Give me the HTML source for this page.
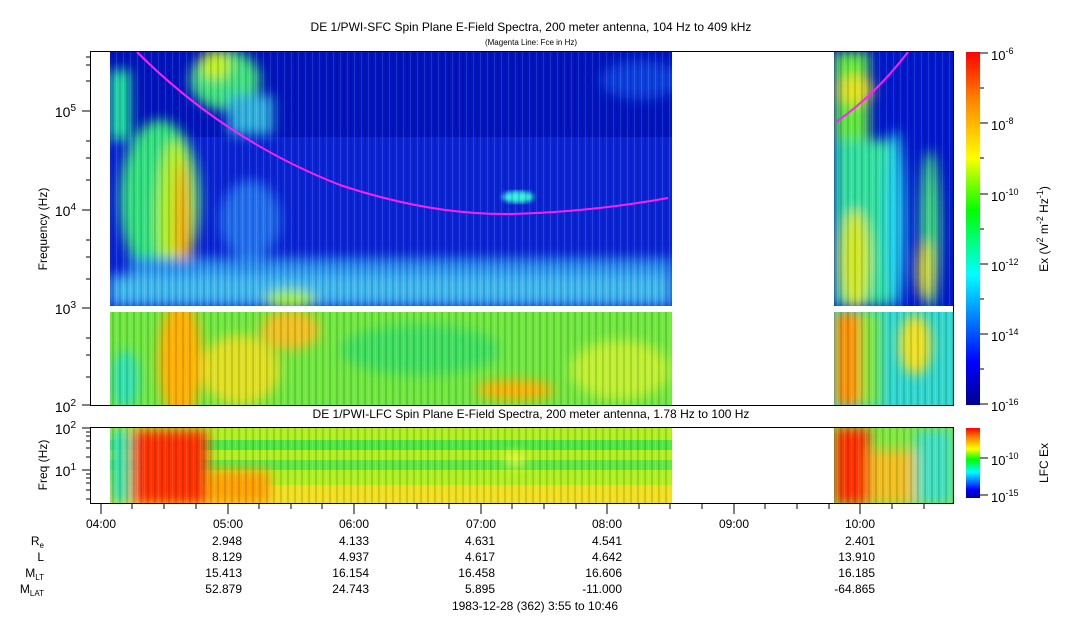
<!DOCTYPE html>
<html><head><style>
body{margin:0;background:#fff;width:1083px;height:620px;overflow:hidden}
svg text{font-family:"Liberation Sans",sans-serif;fill:#000}
</style></head><body>
<svg width="1083" height="620" viewBox="0 0 1083 620" xmlns="http://www.w3.org/2000/svg">
<defs>
<linearGradient id="jet" x1="0" y1="1" x2="0" y2="0">
<stop offset="0" stop-color="#00008f"/><stop offset="0.12" stop-color="#0000ff"/>
<stop offset="0.37" stop-color="#00ffff"/><stop offset="0.55" stop-color="#00ff00"/>
<stop offset="0.63" stop-color="#80ff00"/><stop offset="0.70" stop-color="#ffff00"/>
<stop offset="0.87" stop-color="#ff8000"/><stop offset="1" stop-color="#ff0000"/>
</linearGradient>
<pattern id="stripes" width="7" height="4" patternUnits="userSpaceOnUse">
<rect x="0" y="0" width="2" height="4" fill="#000" opacity="0.12"/>
<rect x="4" y="0" width="1" height="4" fill="#fff" opacity="0.12"/>
</pattern>
<filter id="b6"><feGaussianBlur stdDeviation="6"/></filter>
<filter id="b3"><feGaussianBlur stdDeviation="2.5"/></filter>
<clipPath id="cA"><rect x="110" y="52" width="562" height="254"/></clipPath>
<clipPath id="cB"><rect x="110" y="312" width="562" height="94"/></clipPath>
<clipPath id="cC"><rect x="834" y="52" width="119" height="254"/></clipPath>
<clipPath id="cD"><rect x="834" y="312" width="119" height="94"/></clipPath>
<clipPath id="cE"><rect x="110" y="428" width="562" height="76"/></clipPath>
<clipPath id="cF"><rect x="834" y="428" width="119" height="76"/></clipPath>
</defs>

<text x="531" y="31" font-size="12" text-anchor="middle">DE 1/PWI-SFC  Spin Plane E-Field Spectra, 200 meter antenna, 104 Hz to 409 kHz</text>
<text x="531" y="45" font-size="8" text-anchor="middle">(Magenta Line: Fce in Hz)</text>

<g clip-path="url(#cA)">
<rect x="110" y="52" width="562" height="254" fill="#0a24d8"/>
<rect x="110" y="52" width="562" height="85" fill="#0014c0"/>
<g filter="url(#b6)">
<rect x="110" y="70" width="20" height="70" fill="#20e8a0"/>
<ellipse cx="225" cy="80" rx="35" ry="30" fill="#40e080"/>
<ellipse cx="215" cy="65" rx="15" ry="15" fill="#c0f020"/>
<rect x="228" y="95" width="45" height="40" fill="#30b0e0"/>
<ellipse cx="160" cy="200" rx="40" ry="80" fill="#30e080"/>
<ellipse cx="175" cy="220" rx="18" ry="80" fill="#b0f020"/>
<ellipse cx="182" cy="230" rx="6" ry="70" fill="#ff9000"/>
<ellipse cx="250" cy="220" rx="30" ry="40" fill="#2070f0"/>
<rect x="130" y="258" width="542" height="48" fill="#2a90f0"/>
<rect x="110" y="275" width="562" height="31" fill="#40b8f0"/>
<ellipse cx="290" cy="300" rx="25" ry="10" fill="#a0f040"/>
<ellipse cx="640" cy="80" rx="40" ry="20" fill="#1040e0"/>
</g>
<g filter="url(#b3)">
<ellipse cx="518" cy="197" rx="16" ry="6" fill="#30f0e0"/>
</g>
<rect x="110" y="52" width="562" height="254" fill="url(#stripes)"/>
</g>
<g clip-path="url(#cB)">
<rect x="110" y="312" width="562" height="94" fill="#70e840"/>
<g filter="url(#b6)">
<ellipse cx="180" cy="360" rx="22" ry="60" fill="#ffb000"/>
<ellipse cx="240" cy="370" rx="40" ry="35" fill="#e0e020"/>
<ellipse cx="290" cy="330" rx="30" ry="20" fill="#f0c020"/>
<ellipse cx="515" cy="390" rx="40" ry="10" fill="#ffb000"/>
<ellipse cx="125" cy="380" rx="14" ry="30" fill="#30e0b0"/>
<ellipse cx="420" cy="350" rx="80" ry="25" fill="#40e060"/>
<ellipse cx="620" cy="370" rx="50" ry="30" fill="#c0f030"/>
</g>
<rect x="110" y="312" width="562" height="94" fill="url(#stripes)"/>
</g>
<g clip-path="url(#cC)">
<rect x="834" y="52" width="119" height="254" fill="#0018d0"/>
<g filter="url(#b6)">
<rect x="834" y="52" width="35" height="90" fill="#60e840"/>
<ellipse cx="855" cy="90" rx="18" ry="15" fill="#e0e020"/>
<rect x="834" y="140" width="55" height="166" fill="#30e0a0"/>
<ellipse cx="855" cy="260" rx="15" ry="50" fill="#d0e820"/>
<ellipse cx="895" cy="220" rx="10" ry="90" fill="#20d0f0"/>
<ellipse cx="930" cy="230" rx="10" ry="80" fill="#40e080"/>
<ellipse cx="925" cy="270" rx="8" ry="30" fill="#e0e020"/>
</g>
<rect x="834" y="52" width="119" height="254" fill="url(#stripes)"/>
</g>
<g clip-path="url(#cD)">
<rect x="834" y="312" width="119" height="94" fill="#30d8d0"/>
<g filter="url(#b6)">
<rect x="834" y="312" width="30" height="94" fill="#ff9000"/>
<ellipse cx="915" cy="345" rx="16" ry="30" fill="#f0e020"/>
<rect x="860" y="312" width="20" height="94" fill="#80e840"/>
</g>
<rect x="834" y="312" width="119" height="94" fill="url(#stripes)"/>
</g>
<path d="M137,52 Q225,140 340,185 Q430,215 510,214 Q590,212 668,198" fill="none" stroke="#ff20ff" stroke-width="2"/>
<path d="M836,122 Q875,95 908,52" fill="none" stroke="#ff20ff" stroke-width="2"/>
<rect x="90.5" y="51.5" width="863" height="354" fill="none" stroke="#000"/>
<g stroke="#000">
<line x1="82" y1="111" x2="90" y2="111"/><line x1="82" y1="210" x2="90" y2="210"/><line x1="82" y1="308" x2="90" y2="308"/><line x1="82" y1="405" x2="90" y2="405"/>
<line x1="86" y1="57" x2="90" y2="57"/><line x1="86" y1="65" x2="90" y2="65"/><line x1="86" y1="81" x2="90" y2="81"/><line x1="86" y1="141" x2="90" y2="141"/><line x1="86" y1="158" x2="90" y2="158"/><line x1="86" y1="180" x2="90" y2="180"/>
<line x1="86" y1="240" x2="90" y2="240"/><line x1="86" y1="257" x2="90" y2="257"/><line x1="86" y1="279" x2="90" y2="279"/><line x1="86" y1="338" x2="90" y2="338"/><line x1="86" y1="355" x2="90" y2="355"/><line x1="86" y1="377" x2="90" y2="377"/>
</g>
<g font-size="14" text-anchor="end">
<text x="76" y="117">10<tspan font-size="10" dy="-6">5</tspan></text>
<text x="76" y="216">10<tspan font-size="10" dy="-6">4</tspan></text>
<text x="76" y="314">10<tspan font-size="10" dy="-6">3</tspan></text>
<text x="76" y="412">10<tspan font-size="10" dy="-6">2</tspan></text>
</g>
<text transform="translate(47,229) rotate(-90)" font-size="12" text-anchor="middle">Frequency (Hz)</text>

<text x="531" y="418" font-size="12" text-anchor="middle">DE 1/PWI-LFC  Spin Plane E-Field Spectra, 200 meter antenna, 1.78 Hz to 100 Hz</text>
<g clip-path="url(#cE)">
<rect x="110" y="428" width="562" height="76" fill="#b0f020"/>
<rect x="110" y="440" width="562" height="10" fill="#50e840"/>
<rect x="110" y="460" width="562" height="10" fill="#60e840"/>
<rect x="110" y="485" width="562" height="19" fill="#f0e020"/>
<g filter="url(#b6)">
<rect x="110" y="428" width="20" height="76" fill="#30e0b0"/>
<rect x="132" y="430" width="75" height="74" fill="#ff3000"/>
<rect x="210" y="470" width="60" height="34" fill="#ffa000"/>
<ellipse cx="515" cy="460" rx="10" ry="6" fill="#ffff40"/>
</g>
<rect x="110" y="428" width="562" height="76" fill="url(#stripes)"/>
</g>
<g clip-path="url(#cF)">
<rect x="834" y="428" width="119" height="76" fill="#80e840"/>
<g filter="url(#b6)">
<rect x="834" y="428" width="35" height="76" fill="#ff3000"/>
<rect x="870" y="450" width="45" height="54" fill="#f0c020"/>
<rect x="915" y="430" width="38" height="74" fill="#40e0c0"/>
</g>
<rect x="834" y="428" width="119" height="76" fill="url(#stripes)"/>
</g>
<rect x="90.5" y="427.5" width="863" height="76" fill="none" stroke="#000"/>
<g stroke="#000">
<line x1="82" y1="428" x2="90" y2="428"/><line x1="82" y1="470" x2="90" y2="470"/>
<line x1="86" y1="432" x2="90" y2="432"/><line x1="86" y1="436" x2="90" y2="436"/><line x1="86" y1="441" x2="90" y2="441"/><line x1="86" y1="448" x2="90" y2="448"/><line x1="86" y1="457" x2="90" y2="457"/>
<line x1="86" y1="474" x2="90" y2="474"/><line x1="86" y1="478" x2="90" y2="478"/><line x1="86" y1="483" x2="90" y2="483"/><line x1="86" y1="490" x2="90" y2="490"/><line x1="86" y1="499" x2="90" y2="499"/>
</g>
<g font-size="14" text-anchor="end">
<text x="76" y="434">10<tspan font-size="10" dy="-6">2</tspan></text>
<text x="76" y="476">10<tspan font-size="10" dy="-6">1</tspan></text>
</g>
<text transform="translate(47,465) rotate(-90)" font-size="12" text-anchor="middle">Freq (Hz)</text>
<g stroke="#000">
<line x1="101" y1="504" x2="101" y2="514"/><line x1="228" y1="504" x2="228" y2="514"/><line x1="354" y1="504" x2="354" y2="514"/><line x1="481" y1="504" x2="481" y2="514"/><line x1="607" y1="504" x2="607" y2="514"/><line x1="734" y1="504" x2="734" y2="514"/><line x1="860" y1="504" x2="860" y2="514"/>
<line x1="132" y1="504" x2="132" y2="509"/><line x1="164" y1="504" x2="164" y2="509"/><line x1="196" y1="504" x2="196" y2="509"/>
<line x1="259" y1="504" x2="259" y2="509"/><line x1="291" y1="504" x2="291" y2="509"/><line x1="322" y1="504" x2="322" y2="509"/>
<line x1="386" y1="504" x2="386" y2="509"/><line x1="417" y1="504" x2="417" y2="509"/><line x1="449" y1="504" x2="449" y2="509"/>
<line x1="512" y1="504" x2="512" y2="509"/><line x1="544" y1="504" x2="544" y2="509"/><line x1="576" y1="504" x2="576" y2="509"/>
<line x1="639" y1="504" x2="639" y2="509"/><line x1="670" y1="504" x2="670" y2="509"/><line x1="702" y1="504" x2="702" y2="509"/>
<line x1="765" y1="504" x2="765" y2="509"/><line x1="797" y1="504" x2="797" y2="509"/><line x1="829" y1="504" x2="829" y2="509"/>
<line x1="892" y1="504" x2="892" y2="509"/><line x1="924" y1="504" x2="924" y2="509"/>
</g>
<g font-size="12" text-anchor="middle">
<text x="101" y="528">04:00</text><text x="228" y="528">05:00</text><text x="354" y="528">06:00</text><text x="481" y="528">07:00</text><text x="607" y="528">08:00</text><text x="734" y="528">09:00</text><text x="860" y="528">10:00</text>
</g>
<g font-size="12" text-anchor="end">
<text x="44" y="545">R<tspan font-size="8" dy="3">e</tspan></text>
<text x="44" y="561">L</text>
<text x="44" y="577">M<tspan font-size="8" dy="3">LT</tspan></text>
<text x="44" y="593">M<tspan font-size="8" dy="3">LAT</tspan></text>
<text x="242" y="545">2.948</text><text x="242" y="561">8.129</text><text x="242" y="577">15.413</text><text x="242" y="593">52.879</text>
<text x="369" y="545">4.133</text><text x="369" y="561">4.937</text><text x="369" y="577">16.154</text><text x="369" y="593">24.743</text>
<text x="495" y="545">4.631</text><text x="495" y="561">4.617</text><text x="495" y="577">16.458</text><text x="495" y="593">5.895</text>
<text x="622" y="545">4.541</text><text x="622" y="561">4.642</text><text x="622" y="577">16.606</text><text x="622" y="593">-11.000</text>
<text x="875" y="545">2.401</text><text x="875" y="561">13.910</text><text x="875" y="577">16.185</text><text x="875" y="593">-64.865</text>
</g>
<text x="535" y="610" font-size="12" text-anchor="middle">1983-12-28 (362) 3:55 to 10:46</text>
<rect x="966" y="52" width="14" height="353" fill="url(#jet)"/>
<rect x="966" y="428" width="14" height="70" fill="url(#jet)"/>
<g stroke="#000">
<line x1="980" y1="53" x2="988" y2="53"/><line x1="980" y1="123" x2="988" y2="123"/><line x1="980" y1="194" x2="988" y2="194"/><line x1="980" y1="264" x2="988" y2="264"/><line x1="980" y1="334" x2="988" y2="334"/><line x1="980" y1="404" x2="988" y2="404"/>
<line x1="980" y1="88" x2="984" y2="88"/><line x1="980" y1="158" x2="984" y2="158"/><line x1="980" y1="229" x2="984" y2="229"/><line x1="980" y1="299" x2="984" y2="299"/><line x1="980" y1="369" x2="984" y2="369"/>
<line x1="980" y1="458" x2="988" y2="458"/><line x1="980" y1="495" x2="988" y2="495"/>
</g>
<g font-size="13">
<text x="991" y="60">10<tspan font-size="9" dy="-6">-6</tspan></text>
<text x="991" y="130">10<tspan font-size="9" dy="-6">-8</tspan></text>
<text x="991" y="201">10<tspan font-size="9" dy="-6">-10</tspan></text>
<text x="991" y="271">10<tspan font-size="9" dy="-6">-12</tspan></text>
<text x="991" y="341">10<tspan font-size="9" dy="-6">-14</tspan></text>
<text x="991" y="411">10<tspan font-size="9" dy="-6">-16</tspan></text>
<text x="991" y="465">10<tspan font-size="9" dy="-6">-10</tspan></text>
<text x="991" y="502">10<tspan font-size="9" dy="-6">-15</tspan></text>
</g>
<text transform="translate(1048,229) rotate(-90)" font-size="12" text-anchor="middle">Ex (V<tspan font-size="9" dy="-5">2</tspan><tspan dy="5"> m</tspan><tspan font-size="9" dy="-5">-2</tspan><tspan dy="5"> Hz</tspan><tspan font-size="9" dy="-5">-1</tspan><tspan dy="5">)</tspan></text>
<text transform="translate(1048,463) rotate(-90)" font-size="12" text-anchor="middle">LFC Ex</text>
</svg>
</body></html>
